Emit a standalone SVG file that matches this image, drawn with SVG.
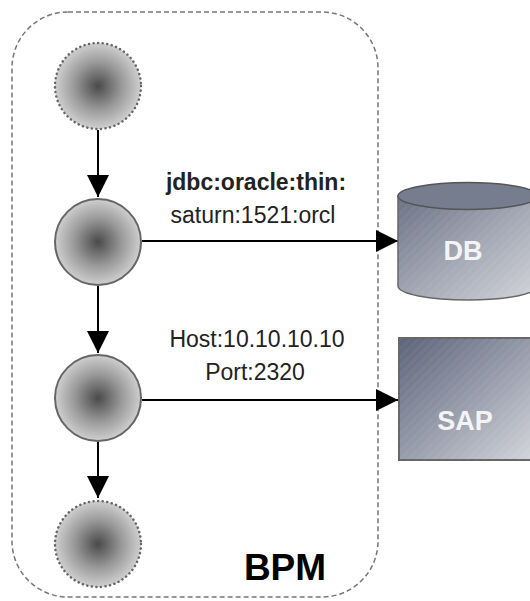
<svg xmlns="http://www.w3.org/2000/svg" width="530" height="601" viewBox="0 0 530 601">
<defs>
  <radialGradient id="ball" cx="0.5" cy="0.5" r="0.5">
    <stop offset="0" stop-color="#4a4a4a"/>
    <stop offset="0.55" stop-color="#999"/>
    <stop offset="1" stop-color="#cfcfcf"/>
  </radialGradient>
  <linearGradient id="metal" x1="0" y1="0" x2="1" y2="1">
    <stop offset="0" stop-color="#5c6377"/>
    <stop offset="0.5" stop-color="#979cab"/>
    <stop offset="1" stop-color="#d6d8de"/>
  </linearGradient>
  <linearGradient id="cyl" x1="0" y1="0" x2="1" y2="1">
    <stop offset="0" stop-color="#6a7183"/>
    <stop offset="0.5" stop-color="#a2a6b3"/>
    <stop offset="1" stop-color="#d3d5db"/>
  </linearGradient>
  <pattern id="stripes" width="6" height="6" patternUnits="userSpaceOnUse" patternTransform="rotate(45)">
    <rect width="3" height="6" fill="#ffffff" fill-opacity="0.035"/>
  </pattern>
  <marker id="arr" viewBox="0 0 22 22" refX="22" refY="11" markerWidth="22" markerHeight="22" markerUnits="userSpaceOnUse" orient="auto">
    <path d="M0,0 L22,11 L0,22 Z" fill="#000"/>
  </marker>
</defs>
<style>
  .node-solid { fill: url(#ball); stroke: #666; stroke-width: 2; }
  .node-dot { fill: url(#ball); stroke: #666; stroke-width: 2.5; stroke-dasharray: 0.1 4.5; stroke-linecap: round; }
  .conn { stroke: #000; stroke-width: 2; fill: none; marker-end: url(#arr); }
  .lbl { font-family: "Liberation Sans", Arial, sans-serif; font-size: 23px; fill: #222; text-anchor: middle; }
  .sys { font-family: "Liberation Sans", Arial, sans-serif; font-size: 27px; font-weight: bold; fill: #f4f4f4; text-anchor: middle; }
</style>
<rect width="530" height="601" fill="#fff"/>
<g id="bpm">
  <rect x="12" y="12" width="366" height="585" rx="56" ry="56" fill="none" stroke="#777" stroke-width="1.5" stroke-dasharray="5 3"/>
  <text x="285" y="580" font-family="Liberation Sans, Arial, sans-serif" font-size="37" font-weight="bold" fill="#000" text-anchor="middle">BPM</text>
</g>
<g id="connectors">
  <line class="conn" x1="98" y1="130" x2="98" y2="197"/>
  <line class="conn" x1="98" y1="286" x2="98" y2="353"/>
  <line class="conn" x1="98" y1="442" x2="98" y2="498"/>
  <line class="conn" x1="142" y1="241" x2="398" y2="241"/>
  <line class="conn" x1="142" y1="400" x2="398" y2="400"/>
  <text class="lbl" x="256" y="190" font-weight="bold">jdbc:oracle:thin:</text>
  <text class="lbl" x="253" y="223">saturn:1521:orcl</text>
  <text class="lbl" x="257" y="347">Host:10.10.10.10</text>
  <text class="lbl" x="255" y="380">Port:2320</text>
</g>
<g id="start"><circle class="node-dot" cx="98" cy="86" r="43"/></g>
<g id="step1"><circle class="node-solid" cx="98" cy="242" r="43"/></g>
<g id="step2"><circle class="node-solid" cx="98" cy="398" r="43"/></g>
<g id="end"><circle class="node-dot" cx="98" cy="544" r="43"/></g>
<g id="db">
  <path d="M398,196 L398,286 A70,14 0 0 0 538,286 L538,196 Z" fill="url(#cyl)" stroke="#666" stroke-width="1.5"/>
  <path d="M398,196 L398,286 A70,14 0 0 0 538,286 L538,196 Z" fill="url(#stripes)"/>
  <ellipse cx="468" cy="196" rx="70" ry="13.5" fill="#767d8f" stroke="#555" stroke-width="1.5"/>
  <text class="sys" x="463" y="260">DB</text>
</g>
<g id="sap">
  <rect x="399" y="338" width="140" height="122" fill="url(#metal)" stroke="#666" stroke-width="2"/>
  <rect x="399" y="338" width="140" height="122" fill="url(#stripes)"/>
  <text class="sys" x="465" y="430">SAP</text>
</g>
</svg>
